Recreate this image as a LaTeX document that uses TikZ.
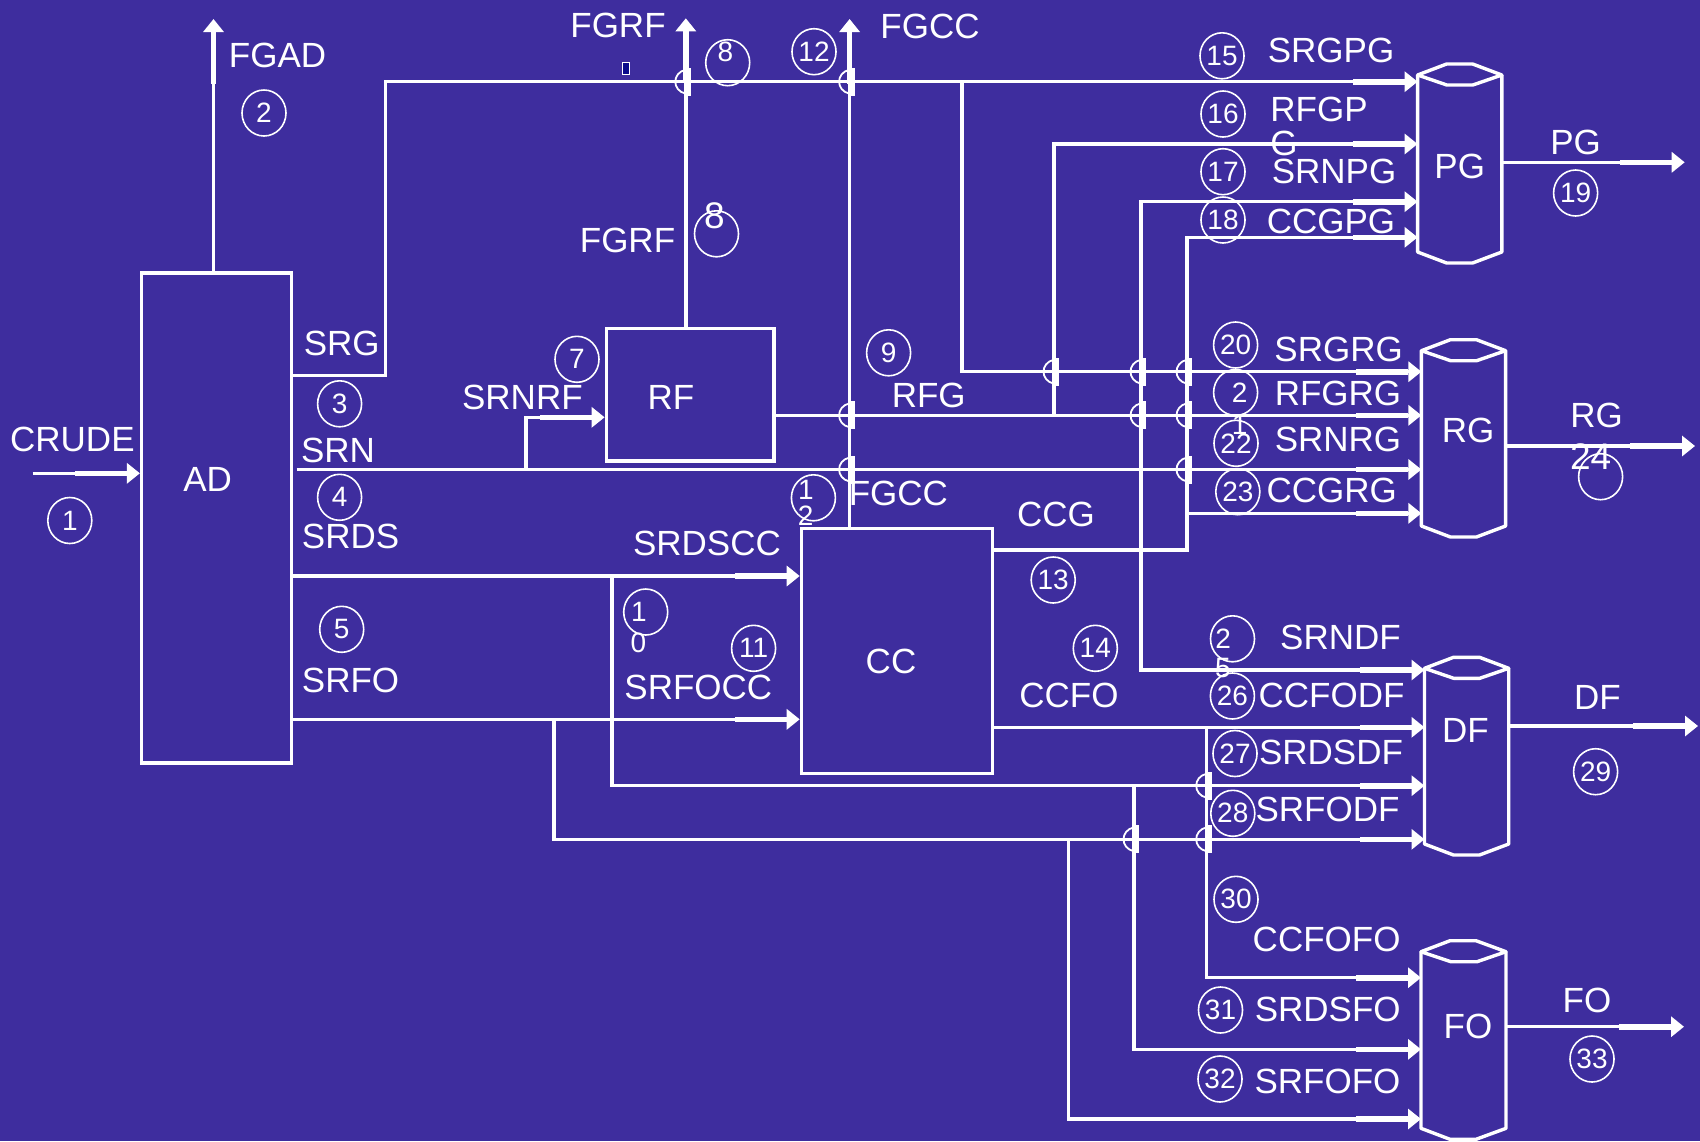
\documentclass[tikz,border=0pt]{standalone}
\usepackage{fontspec}
\setmainfont{Liberation Sans}
\usetikzlibrary{arrows.meta,shapes.geometric,fit}
\definecolor{bgc}{RGB}{62,45,158}
\definecolor{navyc}{RGB}{10,10,140}
\newcommand\lblfont{\fontsize{17.5}{21}\selectfont}
\newcommand\numfont{\fontsize{14}{16}\selectfont}
\newcommand\bigdigfont{\fontsize{18.5}{22}\selectfont}
\tikzset{
  flow/.style={draw=white, line width=1.7pt,
    -{Rectangle[length=26pt,width=2.8pt,sep=0pt]Triangle[length=6.5pt,width=10pt,sep=0pt]}},
  box/.style={draw=white, line width=1.7pt, inner sep=0pt},
  tank/.style={inner sep=0pt, outer sep=0pt},
  tankline/.style={draw=white, line width=1.7pt, line join=round},
  lbl/.style={text=white, font=\lblfont, inner sep=0pt},
  nc/.style={ellipse, draw=white, line width=0.8pt, inner sep=0pt,
    minimum width=22pt, minimum height=23pt, text=white, font=\numfont},
  dig/.style={text=white, font=\numfont, inner sep=0pt},
  hop/.pic={
    \fill[white] (-2,-14) rectangle (5,14);
    \draw[white, line width=0.9pt] (0,-12) .. controls (-14,-9) and (-14,9) .. (0,12);
  }
}
\begin{document}
\begin{tikzpicture}[x=0.5pt,y=-0.5pt]
\fill[bgc] (0,0) rectangle (1700,1141);
\useasboundingbox (0,0) rectangle (1700,1141);

% ---------- units ----------
\node[box, fit={(141.6,273) (291.6,763)}] (AD) {};
\node[box, fit={(606.3,328.3) (773.9,461)}] (RF) {};
\node[box, fit={(801.4,528.3) (992.7,773.3)}] (CC) {};
\node[tank, fit={(1417.6,75) (1501.8,252)}] (PG) {};
\node[tank, fit={(1421.4,350.7) (1505.6,526)}] (RG) {};
\node[tank, fit={(1424.5,668.3) (1508.7,844)}] (DF) {};
\node[tank, fit={(1421,951.7) (1506,1128.3)}] (FO) {};
\foreach \t in {PG,RG,DF,FO}{
  \draw[tankline] (\t.north west) -- ++(29,-11) -- ++(26,0) -- (\t.north east)
    -- ++(-29,10) -- ++(-26,0) -- cycle;
  \draw[tankline] (\t.north west) -- (\t.south west) -- ++(29,11) -- ++(26,0)
    -- (\t.south east) -- (\t.north east);
}

% ---------- streams ----------
\coordinate (crude) at (32.5,473.3);
\draw[flow] (crude) -- (crude -| AD.west);

\coordinate (fgad) at (213.5,19);
\draw[flow] (fgad |- AD.north) -- (fgad);

\coordinate (srgA) at (385.3,375.7);
\coordinate (srgB) at (385.3,81.7);
\draw[flow] (srgA -| AD.east) -- (srgA) -- (srgB) -- (srgB -| PG.west);
\coordinate (srgC) at (962,81.7);
\coordinate (srgD) at (962,371.7);
\draw[flow] (srgC) -- (srgD) -- (srgD -| RG.west);

\coordinate (fgrf) at (685.8,18.3);
\draw[flow] (fgrf |- RF.north) -- (fgrf);
\coordinate (fgcc) at (849.6,19);
\draw[flow] (fgcc |- CC.north) -- (fgcc);

\coordinate (srnA) at (296.6,469.5);
\draw[flow] (srnA) -- (srnA -| RG.west);
\coordinate (srnB) at (526,469.5);
\coordinate (srnC) at (526,417.3);
\draw[flow] (srnB) -- (srnC) -- (srnC -| RF.west);
\coordinate (srnD) at (1141,469.5);
\coordinate (srnE) at (1141,201.7);
\coordinate (srnF) at (1141,670);
\draw[flow] (srnD) -- (srnE) -- (srnE -| PG.west);
\draw[flow] (srnD) -- (srnF) -- (srnF -| DF.west);

\coordinate (rfgA) at (780,415.3);
\draw[flow] (rfgA -| RF.east) -- (rfgA -| RG.west);
\coordinate (rfgB) at (1054,415.3);
\coordinate (rfgC) at (1054,144);
\draw[flow] (rfgB) -- (rfgC) -- (rfgC -| PG.west);

\coordinate (ccgA) at (1187,550);
\coordinate (ccgB) at (1187,513.3);
\coordinate (ccgC) at (1187,237.3);
\draw[flow] (ccgA -| CC.east) -- (ccgA) -- (ccgC) -- (ccgC -| PG.west);
\draw[flow] (ccgB) -- (ccgB -| RG.west);

\coordinate (srdsA) at (611.9,576);
\coordinate (srdsB) at (611.9,785.7);
\draw[flow] (srdsA -| AD.east) -- (srdsA -| CC.west);
\draw[flow] (srdsA) -- (srdsB) -- (srdsB -| DF.west);
\coordinate (srdsC) at (1134,785.7);
\coordinate (srdsD) at (1134,1049.3);
\draw[flow] (srdsC) -- (srdsD) -- (srdsD -| FO.west);

\coordinate (srfoA) at (553.9,719.3);
\coordinate (srfoB) at (553.9,839.3);
\draw[flow] (srfoA -| AD.east) -- (srfoA -| CC.west);
\draw[flow] (srfoA) -- (srfoB) -- (srfoB -| DF.west);
\coordinate (srfoC) at (1068.5,839.3);
\coordinate (srfoD) at (1068.5,1119);
\draw[flow] (srfoC) -- (srfoD) -- (srfoD -| FO.west);

\coordinate (ccfoA) at (1206.7,727.3);
\coordinate (ccfoB) at (1206.7,977.7);
\draw[flow] (ccfoA -| CC.east) -- (ccfoA -| DF.west);
\draw[flow] (ccfoA) -- (ccfoB) -- (ccfoB -| FO.west);

\coordinate (pgout) at (1684.7,162.3);
\draw[flow] (pgout -| PG.east) -- (pgout);
\coordinate (rgout) at (1695,446);
\draw[flow] (rgout -| RG.east) -- (rgout);
\coordinate (dfout) at (1698,726);
\draw[flow] (dfout -| DF.east) -- (dfout);
\coordinate (foout) at (1684,1026.7);
\draw[flow] (foout -| FO.east) -- (foout);

% ---------- line hops ----------
\foreach \p in {(685.8,81.7),(849.6,81.7),(849.6,415.3),(849.6,469.5),
  (1054,371.7),(1141,371.7),(1141,415.3),(1187,371.7),(1187,415.3),(1187,469.5),
  (1206.7,785.7),(1206.7,839.3),(1134,839.3)}
  \pic at \p {hop};

\node[draw=white, fill=navyc, line width=0.5pt, minimum width=3.5pt,
  minimum height=6pt, inner sep=0pt] (tiny) at (626,68.5) {};

% ---------- labels ----------
\node[lbl] (tAD) at (207.6,479.5) {AD};
\node[lbl] (tRF) at (671,397.5) {RF};
\node[lbl] (tCC) at (891,661) {CC};
\node[lbl] (tPG) at (1459.7,166.7) {PG};
\node[lbl] (tRG) at (1468,430.8) {RG};
\node[lbl] (tDF) at (1465.5,730.8) {DF};
\node[lbl] (tFO) at (1468,1026.7) {FO};

\node[lbl] (lCRUDE) at (72.4,439) {CRUDE};
\node[lbl] (lFGAD) at (277.5,55) {FGAD};
\node[lbl] (lFGRF) at (618,25.5) {FGRF};
\node[lbl] (lFGCC) at (930,26.7) {FGCC};
\node[lbl] (lFGRF2) at (627.5,240) {FGRF};
\node[lbl] (lSRG) at (341.7,343) {SRG};
\node[lbl] (lSRNRF) at (522.4,397.5) {SRNRF};
\node[lbl] (lRFG) at (928.7,395.8) {RFG};
\node[lbl] (lSRN) at (338,450.5) {SRN};
\node[lbl] (lSRDS) at (350.6,536.7) {SRDS};
\node[lbl] (lSRFO) at (350.6,680.6) {SRFO};
\node[lbl] (lFGCC2) at (898.4,493.3) {FGCC};
\node[lbl] (lCCG) at (1056,514) {CCG};
\node[lbl] (lSRDSCC) at (707,543) {SRDSCC};
\node[lbl] (lSRFOCC) at (698.3,687.5) {SRFOCC};
\node[lbl] (lCCFO) at (1069,695) {CCFO};
\node[lbl] (lSRGPG) at (1331,50.8) {SRGPG};
\node[lbl, anchor=west] (lRFGP) at (1270,109.7) {RFGP};
\node[lbl, anchor=west] (lRFGPb) at (1270,143.5) {G};
\node[lbl] (lSRNPG) at (1334,171) {SRNPG};
\node[lbl] (lCCGPG) at (1331,221) {CCGPG};
\node[lbl] (lPG) at (1575.6,142.5) {PG};
\node[lbl] (lSRGRG) at (1338.6,349) {SRGRG};
\node[lbl] (lRFGRG) at (1338,393) {RFGRG};
\node[lbl] (lSRNRG) at (1338,439) {SRNRG};
\node[lbl] (lCCGRG) at (1331.8,490.8) {CCGRG};
\node[lbl] (lRG) at (1596.5,415.8) {RG};
\node[lbl] (lSRNDF) at (1340.5,637.5) {SRNDF};
\node[lbl] (lCCFODF) at (1331.5,695.6) {CCFODF};
\node[lbl] (lSRDSDF) at (1331,752) {SRDSDF};
\node[lbl] (lSRFODF) at (1327.5,809) {SRFODF};
\node[lbl] (lDF) at (1597.5,697.5) {DF};
\node[lbl] (lCCFOFO) at (1326.6,939) {CCFOFO};
\node[lbl] (lSRDSFO) at (1327.7,1009) {SRDSFO};
\node[lbl] (lSRFOFO) at (1327.5,1081) {SRFOFO};
\node[lbl] (lFO) at (1587,1000.8) {FO};

% ---------- stream numbers ----------
\node[nc] (c1) at (69.8,520.5) {1};
\node[nc] (c2) at (264,113) {2};
\node[nc] (c3) at (339.6,403.8) {3};
\node[nc] (c4) at (339.6,497.3) {4};
\node[nc] (c5) at (341.7,629.3) {5};
\node[nc] (c7) at (577,359.3) {7};
\node[nc] (c8a) at (727.7,62.7) {};
\node[dig] (c8at) at (725.3,51.7) {8};
\node[nc] (c8b) at (716.5,233.8) {};
\node[text=white, font=\bigdigfont, inner sep=0pt] (c8bt) at (714.5,216) {8};
\node[nc] (c9) at (888.6,352.8) {9};
\node[nc] (c10) at (645.7,612) {};
\node[dig] (c10a) at (638.8,611.7) {1};
\node[dig] (c10b) at (638.5,642.5) {0};
\node[nc] (c11) at (753.6,648.3) {11};
\node[nc] (c12a) at (814,51.7) {12};
\node[nc] (c12b) at (813.4,497.8) {};
\node[dig] (c12ba) at (806,490) {1};
\node[dig] (c12bb) at (805.6,516) {2};
\node[nc] (c13) at (1053.2,580) {13};
\node[nc] (c14) at (1095.3,648.3) {14};
\node[nc] (c15) at (1222,55.8) {15};
\node[nc] (c16) at (1223,114) {16};
\node[nc] (c17) at (1223,171.7) {17};
\node[nc] (c18) at (1223,220) {18};
\node[nc] (c19) at (1575.6,193) {19};
\node[nc] (c20) at (1235.6,345) {20};
\node[nc] (c21) at (1235.6,392.5) {};
\node[dig] (c21a) at (1239.6,392.5) {2};
\node[dig] (c21b) at (1239.7,425) {1};
\node[nc] (c22) at (1236,443.3) {22};
\node[nc] (c23) at (1237.8,491.7) {23};
\node[nc] (c24) at (1600.6,476.7) {};
\node[text=white, font=\bigdigfont, inner sep=0pt] (c24t) at (1590.7,457) {24};
\node[nc] (c25) at (1232.5,638.8) {};
\node[dig] (c25a) at (1223.2,638.3) {2};
\node[dig] (c25b) at (1223,668) {5};
\node[nc] (c26) at (1232.4,696) {26};
\node[nc] (c27) at (1235,753.5) {27};
\node[nc] (c28) at (1232.8,813.3) {28};
\node[nc] (c29) at (1595.6,771.7) {29};
\node[nc] (c30) at (1236,899.3) {30};
\node[nc] (c31) at (1220.5,1010) {31};
\node[nc] (c32) at (1220,1079) {32};
\node[nc] (c33) at (1592,1059) {33};
\end{tikzpicture}
\end{document}
